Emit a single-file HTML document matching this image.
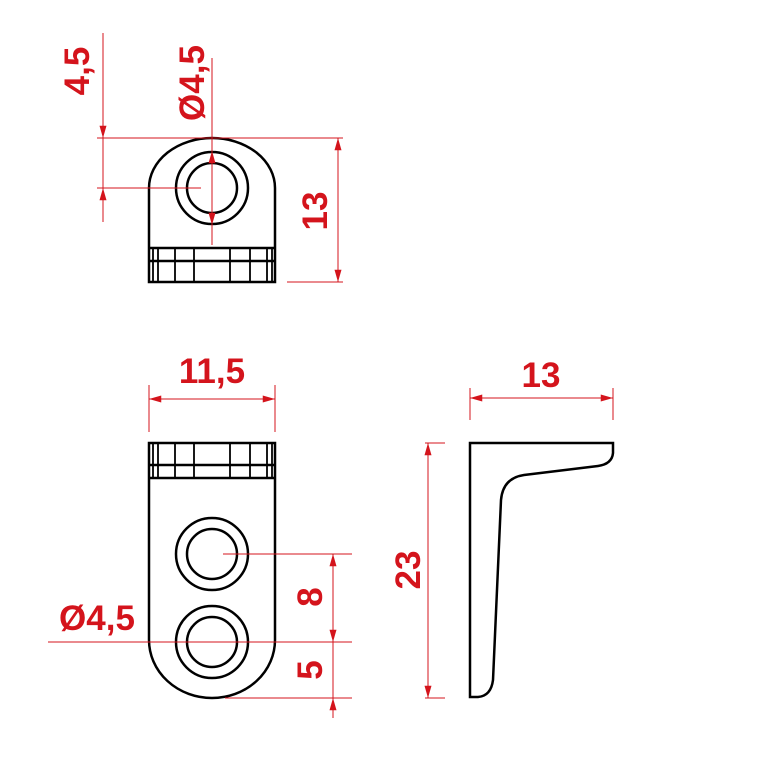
<!DOCTYPE html>
<html><head><style>body{margin:0;background:#fff}svg{display:block}</style></head><body>
<svg width="780" height="780" viewBox="0 0 780 780" xmlns="http://www.w3.org/2000/svg">
<defs>
<marker id="a" viewBox="0 0 14 8" refX="14" refY="4" markerWidth="14" markerHeight="7" orient="auto-start-reverse" markerUnits="userSpaceOnUse"><path d="M0,0 L14,4 L0,8 Z" fill="#d4141c"/></marker>
</defs>
<g fill="none" stroke="#000" stroke-width="2.5">
<path d="M149,282 L149,188 A63,50 0 0 1 275,188 L275,282 Z"/>
<circle cx="212" cy="188" r="36"/><circle cx="212" cy="188" r="25"/>
<line x1="149" y1="248" x2="275" y2="248"/><line x1="149" y1="261" x2="275" y2="261"/>
<g stroke-width="1.8"><line x1="153" y1="248" x2="153" y2="282"/><line x1="158" y1="248" x2="158" y2="282"/><line x1="175" y1="248" x2="175" y2="282"/><line x1="194" y1="248" x2="194" y2="282"/><line x1="230" y1="248" x2="230" y2="282"/><line x1="250" y1="248" x2="250" y2="282"/><line x1="267" y1="248" x2="267" y2="282"/><line x1="272" y1="248" x2="272" y2="282"/></g>
<path d="M149,443 L275,443 L275,640 A63,58 0 0 1 149,640 Z"/>
<line x1="149" y1="465" x2="275" y2="465"/><line x1="149" y1="478" x2="275" y2="478"/>
<g stroke-width="1.8"><line x1="153" y1="443" x2="153" y2="478"/><line x1="158" y1="443" x2="158" y2="478"/><line x1="175" y1="443" x2="175" y2="478"/><line x1="194" y1="443" x2="194" y2="478"/><line x1="230" y1="443" x2="230" y2="478"/><line x1="250" y1="443" x2="250" y2="478"/><line x1="267" y1="443" x2="267" y2="478"/><line x1="272" y1="443" x2="272" y2="478"/></g>
<circle cx="212" cy="554" r="36"/><circle cx="212" cy="554" r="25"/>
<circle cx="212" cy="642" r="36"/><circle cx="212" cy="642" r="25"/>
<path d="M470,443 L613,443 L613,453 Q612,464 598,466 L524,475 Q503,478 501,500 L493,680 Q491,696 478,697 L470,697 Z"/>
</g>
<g stroke="#d4141c" stroke-width="1" fill="none">
<line x1="103" y1="33" x2="103" y2="222"/>
<line x1="103" y1="110" x2="103" y2="138" marker-end="url(#a)"/>
<line x1="103" y1="215" x2="103" y2="188" marker-end="url(#a)"/>
<line x1="97" y1="138" x2="343" y2="138"/>
<line x1="97" y1="188" x2="201" y2="188"/>
<line x1="212" y1="58" x2="212" y2="245"/>
<line x1="212" y1="172" x2="212" y2="151" marker-end="url(#a)"/>
<line x1="212" y1="203" x2="212" y2="225" marker-end="url(#a)"/>
<line x1="338" y1="138" x2="338" y2="282" marker-start="url(#a)" marker-end="url(#a)"/>
<line x1="287" y1="282" x2="343" y2="282"/>
<line x1="149" y1="385" x2="149" y2="432"/><line x1="275" y1="385" x2="275" y2="432"/>
<line x1="149" y1="399" x2="275" y2="399" marker-start="url(#a)" marker-end="url(#a)"/>
<line x1="223" y1="554" x2="352" y2="554"/>
<line x1="48" y1="642" x2="352" y2="642"/>
<line x1="225" y1="698" x2="352" y2="698"/>
<line x1="333" y1="554" x2="333" y2="642" marker-start="url(#a)" marker-end="url(#a)"/>
<line x1="333" y1="642" x2="333" y2="698"/>
<line x1="333" y1="718" x2="333" y2="698" marker-end="url(#a)"/>
<line x1="470" y1="388" x2="470" y2="420"/><line x1="613" y1="388" x2="613" y2="420"/>
<line x1="470" y1="398" x2="613" y2="398" marker-start="url(#a)" marker-end="url(#a)"/>
<line x1="425" y1="443" x2="445" y2="443"/><line x1="425" y1="698" x2="445" y2="698"/>
<line x1="428" y1="443" x2="428" y2="698" marker-start="url(#a)" marker-end="url(#a)"/>
</g>
<g fill="#d4141c" font-family="Liberation Sans, sans-serif" font-weight="bold" font-size="35" text-anchor="middle">
<text transform="translate(89,71) rotate(-90)">4,5</text>
<text transform="translate(204,83) rotate(-90)">Ø4,5</text>
<text transform="translate(327,211) rotate(-90)">13</text>
<text x="212" y="383">11,5</text>
<text transform="translate(322,597) rotate(-90)">8</text>
<text transform="translate(322,670) rotate(-90)">5</text>
<text x="97" y="630">Ø4,5</text>
<text x="541" y="387">13</text>
<text transform="translate(420,570) rotate(-90)">23</text>
</g>
</svg>
</body></html>
